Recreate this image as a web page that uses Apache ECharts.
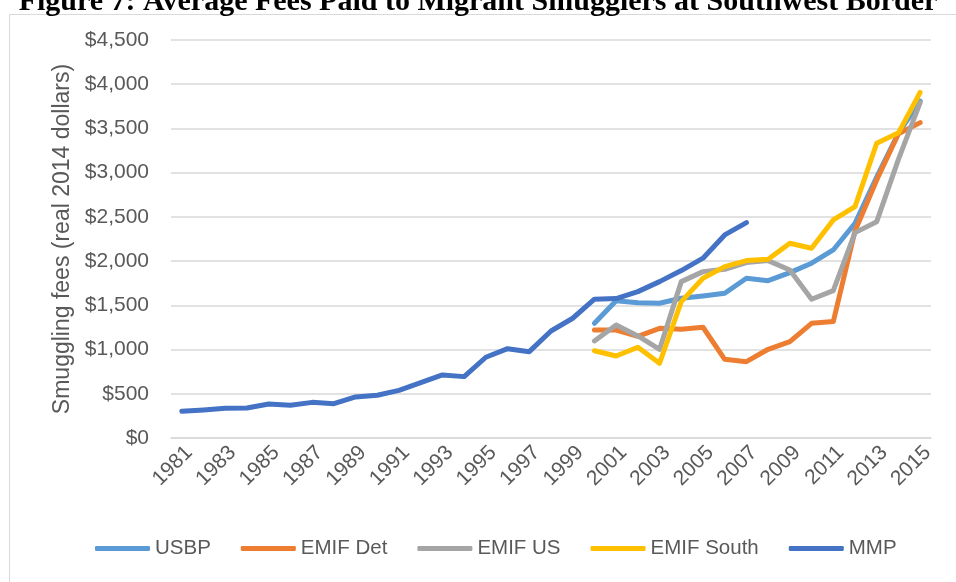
<!DOCTYPE html>
<html>
<head>
<meta charset="utf-8">
<script src="https://cdn.jsdelivr.net/npm/echarts@6/dist/echarts.min.js"></script>
<style>
html,body{margin:0;padding:0;background:#fff;}
#chart{width:956px;height:582px;}
</style>
</head>
<body>
<div id="chart"></div>
<script>
const titleText = "Figure 7: Average Fees Paid to Migrant Smugglers at Southwest Border";
const yAxisTitle = "Smuggling fees (real 2014 dollars)";
const years = ["1981","1982","1983","1984","1985","1986","1987","1988","1989","1990",
  "1991","1992","1993","1994","1995","1996","1997","1998","1999","2000",
  "2001","2002","2003","2004","2005","2006","2007","2008","2009","2010",
  "2011","2012","2013","2014","2015"];
const seriesNames = ["USBP","EMIF Det","EMIF US","EMIF South","MMP"];
const seriesColors = ["#5B9BD5","#ED7D31","#A5A5A5","#FFC000","#4472C4"];
// values 1981..1999 are missing (null) for the four survey series
const pre2000 = [null,null,null,null,null,null,null,null,null,null,null,null,null,null,null,null,null,null,null];
const usbp = pre2000.concat([1297,1553,1530,1523,1580,1606,1636,1806,1779,1870,1976,2126,2428,2950,3446,3810]);
const emifDet = pre2000.concat([1221,1221,1150,1240,1229,1252,890,863,1003,1089,1297,1316,2340,2918,3440,3566]);
const emifUS = pre2000.concat([1097,1278,1154,1003,1768,1881,1908,1983,2006,1900,1569,1666,2322,2446,3150,3792]);
const emifSouth = pre2000.concat([987,927,1026,845,1542,1806,1938,2006,2021,2202,2145,2466,2616,3333,3450,3908]);
const mmp = [302,317,336,339,385,370,403,388,464,483,539,626,713,694,913,1010,976,1210,1354,1569,1576,1655,1768,1893,2033,2296,2436,
  null,null,null,null,null,null,null,null];
const seriesData = [usbp, emifDet, emifUS, emifSouth, mmp];

const chart = echarts.init(document.getElementById('chart'), null, {renderer:'canvas'});
const font = "Liberation Sans";
chart.setOption({
  animation: false,
  backgroundColor: '#ffffff',
  title: {
    text: titleText,
    left: 'center',
    top: -18,
    textStyle: {fontFamily: 'Liberation Serif', fontWeight: 'bold', fontSize: 30, color: '#000000'}
  },
  graphic: [{
    type: 'rect', left: 7, top: 12, z: -10, silent: true,
    shape: {width: 1000, height: 620},
    style: {fill: 'none', stroke: '#D9D9D9', lineWidth: 1}
  }],
  grid: {left: 171, right: 25, top: 40, bottom: 144, containLabel: false},
  legend: {
    data: seriesNames,
    bottom: 18,
    left: 90,
    icon: 'roundRect',
    itemWidth: 55,
    itemHeight: 5,
    itemGap: 30,
    textStyle: {fontFamily: font, fontSize: 20.5, color: '#595959'}
  },
  xAxis: {
    type: 'category',
    data: years,
    boundaryGap: true,
    axisLine: {show: true, lineStyle: {color: '#D9D9D9', width: 1.5}},
    axisTick: {show: false},
    axisLabel: {interval: 1, rotate: 45, margin: 4, verticalAlign: 'top', fontFamily: font, fontSize: 21, color: '#595959'}
  },
  yAxis: {
    type: 'value',
    min: 0, max: 4500, interval: 500,
    name: yAxisTitle,
    nameLocation: 'middle',
    nameGap: 97,
    nameTextStyle: {fontFamily: font, fontSize: 23, color: '#595959'},
    axisLine: {show: false},
    axisTick: {show: false},
    splitLine: {lineStyle: {color: '#D9D9D9', width: 1.5}},
    axisLabel: {
      margin: 22, fontFamily: font, fontSize: 21, color: '#595959',
      formatter: v => '$' + v.toLocaleString('en-US')
    }
  },
  series: seriesNames.map((n, i) => ({
    name: n,
    type: 'line',
    data: seriesData[i],
    showSymbol: false,
    symbol: 'none',
    connectNulls: false,
    color: seriesColors[i],
    lineStyle: {width: 5, color: seriesColors[i], cap: 'round', join: 'round'}
  }))
});
</script>
</body>
</html>
